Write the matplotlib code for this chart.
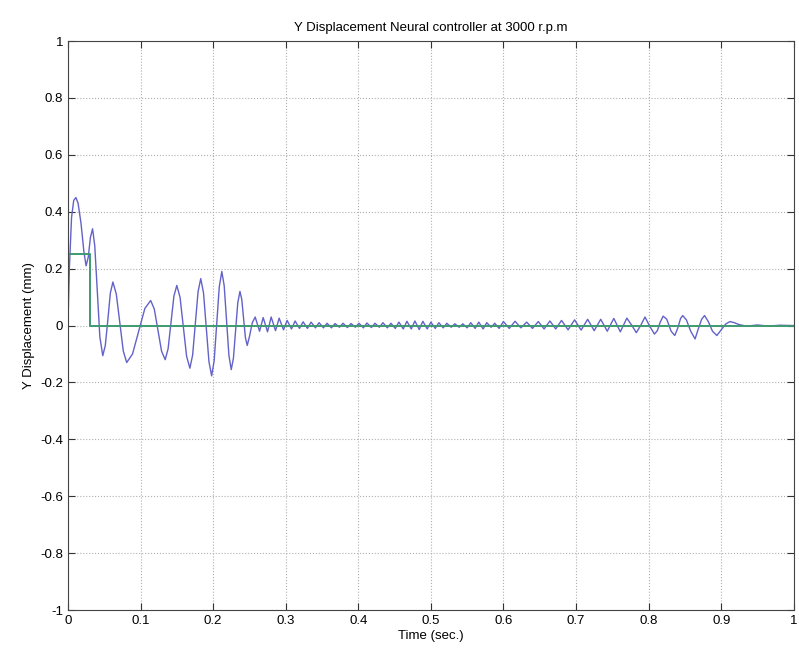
import numpy as np
import matplotlib
matplotlib.use('Agg')
import matplotlib.pyplot as plt

plt.rcParams['font.family'] = ['Liberation Sans', 'DejaVu Sans']
plt.rcParams['axes.unicode_minus'] = False

# reference signal (green): step 0.25 -> 0
ref_t = [0.0, 0.031, 0.031, 1.0]
ref_y = [0.25, 0.25, 0.0, 0.0]

# neural controller response (blue)
# initial transient
t_start = [0.000, 0.002, 0.005, 0.008, 0.011, 0.014, 0.018, 0.022, 0.025, 0.028,
           0.031, 0.034, 0.037, 0.040, 0.044, 0.048,
           0.0515, 0.055, 0.0585, 0.062,
           0.0667, 0.0715, 0.0763, 0.081,
           0.089, 0.0975, 0.106, 0.114,
           0.119, 0.124, 0.129, 0.134,
           0.138, 0.142, 0.146, 0.150,
           0.1545, 0.159, 0.1635, 0.168,
           0.1718, 0.1755, 0.1793, 0.183,
           0.1868, 0.1905, 0.1943, 0.198,
           0.2015, 0.205, 0.2085, 0.212,
           0.2153, 0.2185, 0.2218, 0.225,
           0.228, 0.231, 0.234, 0.237,
           0.2395, 0.242, 0.2445, 0.247, 0.250]
y_start = [0.000, 0.200, 0.380, 0.440, 0.450, 0.430, 0.360, 0.260, 0.210, 0.240,
           0.310, 0.340, 0.280, 0.140, -0.040, -0.106,
           -0.070, 0.020, 0.115, 0.153,
           0.110, 0.010, -0.090, -0.130,
           -0.100, -0.020, 0.060, 0.088,
           0.058, -0.016, -0.090, -0.120,
           -0.082, 0.010, 0.103, 0.141,
           0.099, -0.005, -0.108, -0.150,
           -0.104, 0.008, 0.119, 0.165,
           0.115, -0.006, -0.127, -0.177,
           -0.123, 0.007, 0.136, 0.190,
           0.140, 0.017, -0.105, -0.155,
           -0.115, -0.018, 0.080, 0.120,
           0.092, 0.025, -0.042, -0.070, -0.040]

# small residual oscillation
t_tail = [0.254, 0.258, 0.264, 0.269, 0.275, 0.280, 0.286, 0.291, 0.297, 0.302,
          0.308, 0.313, 0.319, 0.324, 0.330, 0.335, 0.341, 0.346, 0.352, 0.357,
          0.363, 0.368, 0.374, 0.379, 0.385, 0.390, 0.396, 0.401, 0.407, 0.412,
          0.418, 0.423, 0.429, 0.434, 0.440, 0.445, 0.451, 0.456, 0.462, 0.467,
          0.473, 0.478, 0.484, 0.489, 0.495, 0.500, 0.506, 0.511, 0.517, 0.522,
          0.528, 0.533, 0.539, 0.544, 0.550, 0.555, 0.561, 0.566, 0.572, 0.577,
          0.583, 0.588, 0.594, 0.600, 0.608, 0.616, 0.624, 0.632, 0.640, 0.648,
          0.656, 0.664, 0.672, 0.680, 0.689, 0.698, 0.707, 0.716, 0.725, 0.734,
          0.743, 0.752, 0.761, 0.770, 0.777, 0.783, 0.789, 0.795, 0.801, 0.808,
          0.812, 0.816, 0.820, 0.825, 0.831, 0.836, 0.840, 0.844, 0.847, 0.852,
          0.858, 0.864, 0.868, 0.873, 0.877, 0.882, 0.888, 0.894, 0.900, 0.906,
          0.912, 0.918, 0.925, 0.935, 0.950, 0.965, 0.980, 1.000]
y_tail = [0.010, 0.030, -0.020, 0.028, -0.022, 0.030, -0.018, 0.026, -0.015, 0.018,
          -0.012, 0.016, -0.010, 0.013, -0.010, 0.012, -0.008, 0.010, -0.008, 0.008,
          -0.008, 0.007, -0.006, 0.008, -0.007, 0.007, -0.006, 0.008, -0.008, 0.009,
          -0.007, 0.008, -0.006, 0.010, -0.008, 0.008, -0.010, 0.012, -0.012, 0.015,
          -0.012, 0.016, -0.014, 0.015, -0.012, 0.012, -0.010, 0.010, -0.008, 0.008,
          -0.006, 0.006, -0.006, 0.006, -0.008, 0.010, -0.010, 0.012, -0.012, 0.010,
          -0.006, 0.008, -0.010, 0.014, -0.010, 0.015, -0.008, 0.012, -0.010, 0.014,
          -0.012, 0.016, -0.012, 0.018, -0.015, 0.020, -0.016, 0.022, -0.018, 0.022,
          -0.020, 0.025, -0.022, 0.026, 0.000, -0.025, 0.000, 0.030, 0.000, -0.030,
          -0.018, 0.012, 0.033, 0.022, -0.020, -0.035, -0.010, 0.025, 0.035, 0.020,
          -0.020, -0.047, -0.015, 0.022, 0.035, 0.015, -0.020, -0.035, -0.015, 0.005,
          0.014, 0.010, 0.003, -0.002, 0.002, -0.002, 0.001, 0.000]

xticks = [0, 0.1, 0.2, 0.3, 0.4, 0.5, 0.6, 0.7, 0.8, 0.9, 1]
xlabels = ['0', '0.1', '0.2', '0.3', '0.4', '0.5', '0.6', '0.7', '0.8', '0.9', '1']
yticks = [-1, -0.8, -0.6, -0.4, -0.2, 0, 0.2, 0.4, 0.6, 0.8, 1]
ylabels = ['-1', '-0.8', '-0.6', '-0.4', '-0.2', '0', '0.2', '0.4', '0.6', '0.8', '1']

fig = plt.figure(figsize=(7.99, 6.57), dpi=100)
ax = fig.add_axes([0.085, 0.0715, 0.9085, 0.866])

ax.plot(t_start + t_tail, y_start + y_tail, color='#6262c8', lw=1.0)
ax.plot(ref_t, ref_y, color='#3f9a72', lw=1.4)

ax.set_xlim(0, 1)
ax.set_ylim(-1, 1)
ax.set_xticks(xticks)
ax.set_xticklabels(xlabels)
ax.set_yticks(yticks)
ax.set_yticklabels(ylabels)
ax.grid(True, color='#b0b0b0', linestyle=':', linewidth=0.8)
ax.tick_params(direction='in', length=5, top=True, right=True,
               labelsize=9.5, color='#333333')
for s in ax.spines.values():
    s.set_color('#444444')
    s.set_linewidth(0.8)

ax.set_title('Y Displacement Neural controller at 3000 r.p.m', fontsize=9.5, pad=7)
ax.set_xlabel('Time (sec.)', fontsize=9.5, labelpad=2)
ax.set_ylabel('Y Displacement (mm)', fontsize=9.5, labelpad=4)

fig.savefig('out.png', dpi=100)
